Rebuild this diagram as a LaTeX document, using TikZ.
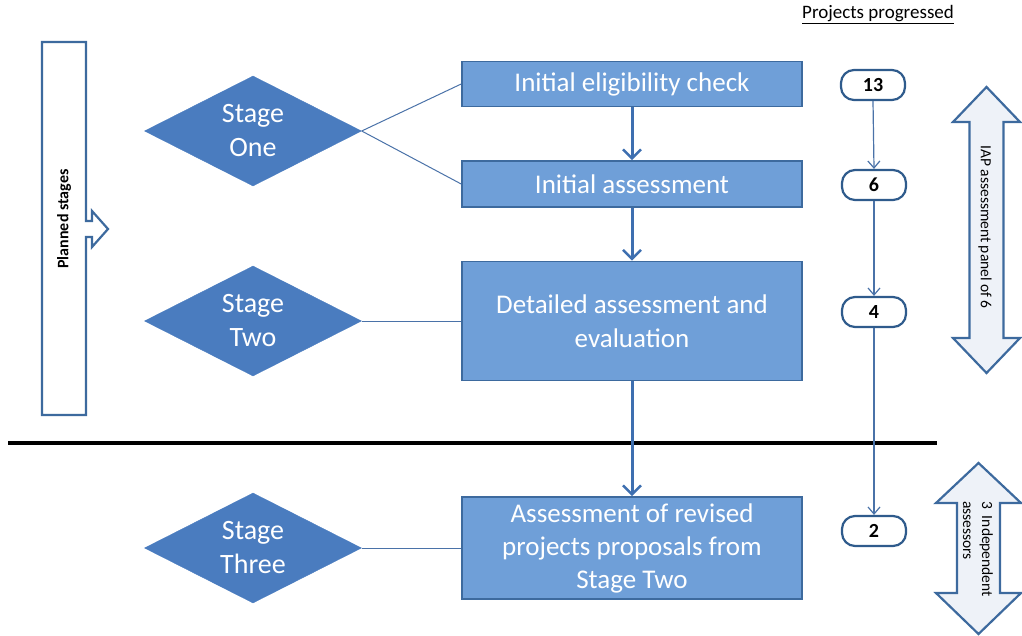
\documentclass[tikz,border=0pt]{standalone}
\usepackage{fontspec}
\setmainfont{Carlito}
\usetikzlibrary{shapes.geometric,arrows.meta}
\definecolor{boxfill}{HTML}{6F9FD8}
\definecolor{boxedge}{HTML}{3D6A9E}
\definecolor{diafill}{HTML}{4A7CBF}
\definecolor{flowline}{HTML}{3E6FB0}
\definecolor{thinline}{HTML}{4A72A8}
\definecolor{pilledge}{HTML}{2F5B8C}
\definecolor{arrowfill}{HTML}{EEF2F8}
\tikzset{
  stagebox/.style={draw=boxedge, line width=1.6pt, fill=boxfill, text=white,
    minimum width=340, align=center, inner sep=2pt,
    font=\fontsize{27}{34}\selectfont},
  stagediamond/.style={diamond, aspect=2, draw=diafill, fill=diafill, text=white,
    minimum width=217, minimum height=110, inner sep=0pt, align=center,
    font=\fontsize{28}{34}\selectfont},
  countpill/.style={draw=pilledge, line width=2.2pt, fill=white, rounded corners=13,
    minimum width=64, minimum height=30, inner sep=0pt,
    font=\fontsize{20}{22}\selectfont\bfseries},
  flowarrow/.style={draw=flowline, line width=3pt, -{Straight Barb[length=9pt,width=18pt,line width=2.5pt]}},
  countarrow/.style={draw=thinline, line width=1.2pt, -{Straight Barb[length=7pt,width=12pt,line width=1.2pt]}},
  linkline/.style={draw=thinline, line width=1pt},
  bigarrow/.style={draw=boxedge, line width=2.2pt, fill=arrowfill, line join=miter}
}
\begin{document}
\begin{tikzpicture}[x=1pt,y=-1pt]
\useasboundingbox (0,0) rectangle (1022,636);

% left "planned stages" bar with its notch arrow
\path[bigarrow, fill=white] (42,42) -- (86,42) -- (86,221) -- (92,221) -- (92,211) -- (108,229)
  -- (92,247) -- (92,237) -- (86,237) -- (86,415) -- (42,415) -- cycle;
\node[rotate=90, font=\fontsize{16}{18}\selectfont\bfseries] (planned) at (64,219) {Planned stages};

% stage diamonds
\node[stagediamond] (d1) at (253,131) {Stage\\One};
\node[stagediamond] (d2) at (253,321) {Stage\\Two};
\node[stagediamond] (d3) at (253,548) {Stage\\Three};

% process boxes
\node[stagebox, minimum height=45] (b1) at (632,84) {Initial eligibility check};
\node[stagebox, minimum height=46] (b2) at (632,184) {Initial assessment};
\node[stagebox, minimum height=119] (b3) at (632,321) {Detailed assessment and\\evaluation};
\node[stagebox, minimum height=102, font=\fontsize{27}{33}\selectfont] (b4) at (632,548) {Assessment of revised\\projects proposals from\\Stage Two};

% links from diamonds to boxes
\draw[linkline] (d1.east) -- (b1.west);
\draw[linkline] (d1.east) -- (b2.west);
\draw[linkline] (d2.east) -- (b3.west);
\draw[linkline] (d3.east) -- (b4.west);

% divider between stage two and stage three
\draw[line width=3.5pt] (8,443) -- (937,443);

% flow between boxes
\draw[flowarrow] (b1.south) -- (b2.north);
\draw[flowarrow] (b2.south) -- (b3.north);
\draw[flowarrow] (b3.south) -- (b4.north);

% projects progressed counts
\node[font=\fontsize{19}{21}\selectfont] (ptitle) at (878,15) {\underline{Projects progressed}};
\node[countpill] (c13) at (873,85) {13};
\node[countpill] (c6) at (874,185) {6};
\node[countpill] (c4) at (874,312) {4};
\node[countpill] (c2) at (874,531) {2};
\draw[countarrow] (c13.south) -- (c6.north);
\draw[countarrow] (c6.south) -- (c4.north);
\draw[countarrow] (c4.south) -- (c2.north);

% assessment panel double arrows
\path[bigarrow] (986.5,87) -- (1020,122) -- (1003.5,122) -- (1003.5,338) -- (1020,338)
  -- (986.5,373) -- (953,338) -- (969.5,338) -- (969.5,122) -- (953,122) -- cycle;
\node[rotate=-90, font=\fontsize{15.5}{17}\selectfont] (iap) at (985,227) {IAP assessment panel of 6};

\path[bigarrow] (978.5,463) -- (1021,503) -- (1000,503) -- (1000,593) -- (1021,593)
  -- (978.5,634) -- (936,593) -- (957,593) -- (957,503) -- (936,503) -- cycle;
\node[rotate=-90, align=left, font=\fontsize{15.5}{19}\selectfont] (ind) at (978,549) {3\ \ Independent\\assessors};
\end{tikzpicture}
\end{document}
